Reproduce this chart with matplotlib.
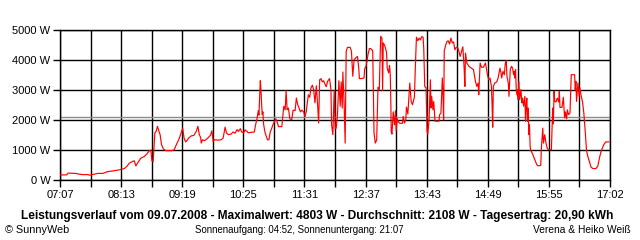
import numpy as np
import matplotlib
matplotlib.use("Agg")
import matplotlib.pyplot as plt
from matplotlib.ticker import FuncFormatter

# Leistungsverlauf 09.07.2008, Minuten nach 07:07 und Leistung in W
minutes = [
    0, 7.2, 8.6, 17.6, 19.4, 24.7, 30.1, 31.9, 40.9, 46.3, 51.7, 58.8, 64.2, 69.6, 72.5, 75.0,
    78.6, 80.3, 82.1, 84.7, 87.5, 91.1, 94.0, 96.8, 98.3, 99.4, 100.8, 101.5, 102.6, 104.0,
    105.5, 106.9, 108.3, 109.8, 111.9, 114.4, 118.0, 120.5, 123.4, 125.9, 128.4, 130.6, 132.7,
    134.2, 135.9, 137.7, 139.2, 142.0, 144.9, 147.4, 149.2, 150.7, 152.1, 152.8, 154.2, 156.4,
    159.3, 162.8, 164.3, 165.7, 167.2, 170.7, 174.3, 176.5, 178.6, 180.1, 182.2, 185.1, 187.2,
    189.4, 191.5, 193.0, 195.1, 196.6, 198.7, 200.2, 202.3, 203.7, 207.3, 210.2, 211.6, 213.1,
    214.5, 215.2, 216.7, 217.4, 218.1, 218.8, 219.5, 220.2, 221.7, 223.1, 224.5, 226.0, 227.4,
    228.9, 230.3, 233.5, 234.9, 236.4, 240.0, 240.7, 242.1, 243.6, 244.6, 245.7, 247.1, 248.6,
    250.7, 252.2, 254.3, 255.7, 257.2, 258.6, 260.1, 261.5, 263.6, 265.1, 266.5, 267.2, 268.7,
    270.1, 271.5, 273.0, 274.4, 275.8, 277.3, 278.7, 279.8, 280.9, 282.3, 283.7, 285.2, 286.6,
    288.0, 289.5, 291.6, 293.1, 293.8, 295.2, 296.6, 297.7, 298.8, 300.2, 301.7, 303.1, 304.2,
    305.3, 306.0, 307.4, 308.5, 309.6, 311.0, 313.9, 315.3, 316.7, 318.2, 320.0, 321.8, 323.2,
    323.9, 326.1, 328.9, 329.6, 331.1, 333.2, 334.7, 336.1, 338.3, 339.7, 341.1, 342.6, 344.0,
    345.4, 346.9, 348.3, 349.0, 349.7, 351.2, 352.6, 353.3, 354.0, 355.5, 356.5, 357.3, 358.0,
    358.3, 359.1, 360.5, 361.9, 363.0, 363.7, 364.8, 366.2, 367.7, 370.5, 371.3, 372.7, 374.1,
    374.8, 376.3, 377.7, 378.4, 379.9, 381.3, 383.4, 384.5, 385.6, 387.0, 388.5, 389.9, 391.3,
    392.8, 393.5, 394.6, 396.0, 397.1, 397.8, 399.2, 400.7, 401.4, 402.1, 403.5, 404.3, 405.7,
    407.8, 410.0, 410.7, 412.1, 413.6, 414.3, 415.0, 415.7, 417.2, 418.6, 420.0, 421.5, 422.9,
    424.3, 425.8, 427.2, 428.6, 430.1, 431.5, 432.9, 434.4, 435.8, 437.2, 438.0, 438.7, 440.1,
    442.3, 445.9, 447.3, 449.4, 450.9, 452.3, 453.0, 454.5, 455.9, 458.1, 460.2, 460.9, 462.4,
    463.8, 465.2, 466.7, 467.4, 468.1, 468.8, 470.3, 472.4, 473.8, 476.0, 477.1, 477.8, 479.2,
    480.7, 481.7, 482.8, 483.5, 485.0, 485.7, 486.4, 487.1, 488.5, 489.6, 490.7, 491.4, 492.1,
    492.8, 493.6, 494.3, 495.0, 495.7, 496.4, 497.2, 498.6, 499.7, 500.4, 501.5, 502.9, 503.6,
    504.3, 505.0, 505.8, 506.5, 507.2, 507.9, 508.6, 509.3, 510.8, 512.2, 513.7, 515.8, 517.2,
    520.1, 520.8, 522.3, 523.0, 524.4, 525.8, 527.3, 529.1, 531.6, 533.0, 533.7, 534.5, 535.2,
    536.6, 538.0, 539.5, 540.2, 540.9, 543.1, 544.5, 545.9, 546.7, 548.1, 548.8, 550.2, 551.7,
    553.1, 556.7, 557.4, 558.1, 558.8, 560.3, 561.7, 562.4, 563.9, 565.3, 566.7, 568.2, 569.6,
    571.0, 572.5, 574.6, 576.8, 579.7, 581.8, 584.0, 585.4, 586.8, 588.3, 590.4, 593.6,
]
watts = [
    170, 170, 230, 220, 200, 180, 180, 160, 220, 220, 280, 310, 340, 380, 460, 560,
    620, 640, 470, 600, 730, 780, 870, 980, 1000, 640, 620, 1000, 1570, 1620,
    1790, 1640, 1510, 1180, 1030, 980, 980, 980, 1000, 1180, 1340, 1530, 1730,
    1400, 1270, 1330, 1400, 1470, 1490, 1620, 1790, 1510, 1420, 1230, 1340, 1310,
    1380, 1490, 1640, 1290, 1340, 1330, 1340, 1400, 1760, 1570, 1510, 1530, 1600,
    1560, 1680, 1620, 1710, 1600, 1570, 1670, 1620, 1570, 1590, 1600, 1840, 2040,
    2310, 2160, 3310, 3010, 2530, 2180, 2270, 1870, 1600, 1460, 1340, 1340, 1600,
    1710, 1840, 2040, 1930, 1780, 1780, 2010, 2460, 2340, 2980, 2340, 2400, 2040,
    2010, 2330, 2310, 2730, 2510, 2400, 2270, 2330, 2270, 2120, 2290, 2490, 2840,
    2760, 3070, 3160, 3010, 2570, 3140, 2510, 1900, 3340, 3380, 3270, 3310, 3200,
    3110, 3290, 3380, 3010, 1840, 1510, 2980, 1710, 1730, 2180, 3310, 2460, 3270,
    2400, 3600, 2510, 1230, 4290, 4420, 4420, 4290, 3460, 4010, 4070, 4120, 3730,
    3380, 3380, 3400, 3710, 3790, 4180, 4380, 4380, 4310, 1570, 1230, 1340, 3090,
    3010, 4790, 4730, 2980, 4570, 4490, 4340, 4230, 3730, 3570, 3820, 3510, 2400,
    1620, 1530, 2270, 1840, 2310, 1640, 2040, 1930, 1890, 1890, 2120, 1900, 2010,
    2430, 2200, 2900, 3230, 2620, 2510, 2760, 3840, 4760, 4640, 4730, 4670, 4780,
    4760, 4400, 3120, 3070, 1620, 1530, 1960, 3340, 2400, 2790, 2340, 2620, 1960,
    1960, 1960, 2180, 2230, 3400, 2840, 2000, 4310, 4490, 4620, 4640, 4530, 4730,
    4570, 4600, 4340, 4420, 4420, 4290, 4120, 4290, 4440, 3730, 3120, 4230, 3900,
    3790, 3710, 3680, 3290, 3120, 3230, 2840, 3900, 3760, 3760, 3900, 3790, 3510,
    3340, 3400, 3120, 2530, 1760, 3120, 3230, 3270, 3380, 3730, 3570, 3400, 3620,
    3510, 3870, 3980, 3460, 3230, 2790, 3230, 3680, 3790, 3730, 3510, 3620, 3400,
    3680, 3010, 2840, 3010, 2680, 3290, 2680, 3010, 2570, 2730, 2460, 2790, 1960,
    2460, 2730, 1960, 2400, 1510, 1840, 1120, 980, 900, 790, 680, 510, 470,
    490, 1090, 1730, 1230, 1510, 1220, 1040, 1010, 1010, 2400, 1870, 2960, 2620,
    2600, 2730, 2600, 2960, 2420, 2420, 2760, 2070, 2270, 2040, 2340, 2180, 2230,
    3510, 3510, 3010, 3290, 2620, 3230, 2790, 3070, 2790, 2600, 2230, 1620, 980,
    790, 640, 420, 380, 380, 460, 790, 960, 1070, 1180, 1270, 1270,
]
start = 7 * 60 + 7      # 07:07
end = 17 * 60 + 2       # 17:02
average = 2108
y_ticks = [0, 1000, 2000, 3000, 4000, 5000]

title = ("Leistungsverlauf vom 09.07.2008 - Maximalwert: 4803 W - "
         "Durchschnitt: 2108 W - Tagesertrag: 20,90 kWh")


def hhmm(p):
    m = int(p + 1e-6)
    return f"{m // 60:02d}:{m % 60:02d}"


plt.rcParams['font.family'] = ['Liberation Sans', 'DejaVu Sans']

fig = plt.figure(figsize=(6.4, 2.4), dpi=100)
ax = fig.add_axes([60 / 640, 60 / 240, 550 / 640, 150 / 240])

t = start + np.array(minutes)
ax.axhline(average, color='#8c8c8c', lw=1.0, zorder=2)
ax.plot(t, watts, color='#ff0000', lw=0.85, zorder=3)

grid_pos = np.linspace(start, end, 19)
ax.set_xticks(grid_pos)
ax.set_xticklabels([hhmm(p) if i % 2 == 0 else "" for i, p in enumerate(grid_pos)])
ax.set_yticks(y_ticks)
ax.yaxis.set_major_formatter(FuncFormatter(lambda v, pos: f"{int(v)} W"))
ax.set_xlim(start, end)
ax.set_ylim(0, 5000)
ax.grid(True, color='black', lw=1.0, zorder=1)
ax.tick_params(direction='out', length=5, width=1.0, color='black', labelsize=8, pad=2)
for s in ax.spines.values():
    s.set_linewidth(1.0)

fig.text(317 / 640, 1 - 216 / 240, title, ha='center', va='center',
         fontsize=8.6, fontweight='bold')
fig.text(5 / 640, 1 - 230 / 240, "© SunnyWeb", ha='left', va='center', fontsize=7.8)
fig.text(299.5 / 640, 1 - 230 / 240, "Sonnenaufgang: 04:52, Sonnenuntergang: 21:07",
         ha='center', va='center', fontsize=6.9)
fig.text(631 / 640, 1 - 230 / 240, "Verena & Heiko Weiß", ha='right', va='center', fontsize=7.4)

fig.savefig("out.png", dpi=100, facecolor='white')
